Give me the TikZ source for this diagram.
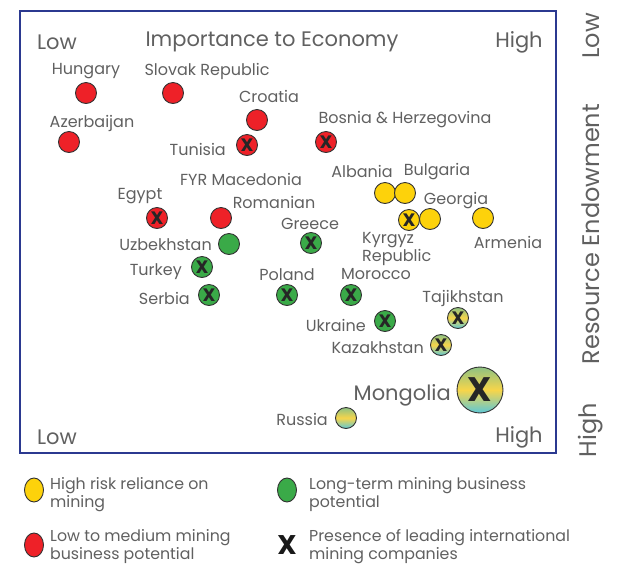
\documentclass[tikz,border=0pt]{standalone}
\usepackage{fontspec}
\setmainfont{Poppins}
\usetikzlibrary{shapes.geometric}
\definecolor{txt}{HTML}{606060}
\definecolor{frameblue}{HTML}{2B3990}
\definecolor{dred}{HTML}{EE2128}
\definecolor{dyel}{HTML}{FDD20B}
\definecolor{dgrn}{HTML}{3AAA48}
\definecolor{gtop}{HTML}{8DC283}
\definecolor{gmid}{HTML}{F7D54A}
\definecolor{gbot}{HTML}{5CC8D8}
\definecolor{outl}{HTML}{333333}
\tikzset{
  dot/.style={circle, draw=outl, line width=0.9pt, minimum size=21pt, inner sep=0pt, font=\fontsize{18}{18}\selectfont\bfseries, text=black!85},
  reddot/.style={dot, fill=dred},
  yeldot/.style={dot, fill=dyel},
  grndot/.style={dot, fill=dgrn},
  gradot/.style={dot, top color=gtop, bottom color=gbot, middle color=gmid},
  lbl/.style={text=txt, font=\fontsize{16}{17}\selectfont, inner sep=0pt, yshift=-1.5pt},
  axl/.style={text=txt, font=\fontsize{21}{22}\selectfont, inner sep=0pt, yshift=-2pt},
  legdot/.style={ellipse, draw=outl, line width=0.9pt, minimum width=19pt, minimum height=24pt, inner sep=0pt},
  legtxt/.style={text=txt, font=\fontsize{15.8}{18}\selectfont, inner sep=0pt, align=left, anchor=west},
}
\begin{document}
\begin{tikzpicture}[x=1pt,y=-1pt]
\useasboundingbox (0,0) rectangle (633,566);
\node[draw=frameblue, line width=2pt, minimum width=536pt, minimum height=442pt, inner sep=0pt] (frame) at (287.5,231.5) {};
% axis labels
\node[axl] (tl) at (57,40) {Low};
\node[axl] (tt) at (272,40) {Importance to Economy};
\node[axl] (tr) at (519,40) {High};
\node[axl] (bl) at (57,435) {Low};
\node[axl] (br) at (519,435) {High};
\node[axl, rotate=90, yshift=2pt, font=\fontsize{24}{24}\selectfont] (rl) at (593,34) {Low};
\node[axl, rotate=90, yshift=2pt, font=\fontsize{24}{24}\selectfont] (rm) at (593,232) {Resource Endowment};
\node[axl, rotate=90, yshift=2pt, font=\fontsize{24}{24}\selectfont] (rh) at (593,428) {High};
% red
\node[reddot] (hun) at (86,93) {};
\node[lbl] (hunl) at (86,70) {Hungary};
\node[reddot] (svk) at (173,93) {};
\node[lbl] (svkl) at (207,70) {Slovak Republic};
\node[reddot] (cro) at (257,120) {};
\node[lbl] (crol) at (269,95) {Croatia};
\node[reddot] (aze) at (69,142) {};
\node[lbl] (azel) at (92,122) {Azerbaijan};
\node[reddot] (tun) at (247,145) {X};
\node[lbl, anchor=east] (tunl) at (226,148) {Tunisia};
\node[reddot] (bih) at (326,142) {X};
\node[lbl] (bihl) at (405,118) {Bosnia \& Herzegovina};
\node[reddot] (egy) at (157,218) {X};
\node[lbl] (egyl) at (140,195) {Egypt};
\node[reddot] (rom) at (221,218) {};
\node[lbl] (roml) at (274,201) {Romanian};
\node[lbl] (mkdl) at (241,178) {FYR Macedonia};
% yellow
\node[yeldot] (alb) at (385,193) {};
\node[yeldot] (bgr) at (405,193) {};
\node[lbl] (albl) at (362,170) {Albania};
\node[lbl] (bgrl) at (437,170) {Bulgaria};
\node[yeldot] (geo) at (430,219) {};
\node[lbl] (geol) at (456,199) {Georgia};
\node[yeldot] (kgz) at (409,220) {X};
\node[lbl, align=left, anchor=north west, font=\fontsize{16}{14.5}\selectfont] (kgzl) at (362,231) {Kyrgyz\\Republic};
\node[yeldot] (arm) at (483,218) {};
\node[lbl] (arml) at (508,241) {Armenia};
% green
\node[grndot] (uzb) at (229,244) {};
\node[lbl, anchor=east] (uzbl) at (212,243) {Uzbekhstan};
\node[grndot] (grc) at (311,243) {X};
\node[lbl] (grcl) at (310,222) {Greece};
\node[grndot] (tur) at (202,267) {X};
\node[lbl, anchor=east] (turl) at (182,270) {Turkey};
\node[grndot] (srb) at (209,295) {X};
\node[lbl, anchor=east] (srbl) at (190,297) {Serbia};
\node[grndot] (pol) at (287,295) {X};
\node[lbl] (poll) at (287,273) {Poland};
\node[grndot] (mar) at (351,295) {X};
\node[lbl] (marl) at (376,273) {Morocco};
\node[grndot] (ukr) at (385,321) {X};
\node[lbl, anchor=east] (ukrl) at (366,324) {Ukraine};
% gradient
\node[gradot] (tjk) at (458,318) {X};
\node[lbl] (tjkl) at (463,297) {Tajikhstan};
\node[gradot] (kaz) at (441,345) {X};
\node[lbl, anchor=east] (kazl) at (424,346) {Kazakhstan};
\node[gradot, minimum size=46pt, font=\fontsize{34}{34}\selectfont\bfseries] (mng) at (480,390) {X};
\node[axl, anchor=east] (mngl) at (451,393) {Mongolia};
\node[gradot] (rus) at (346,418) {};
\node[lbl, anchor=east] (rusl) at (328,418) {Russia};
% legend
\node[legdot, fill=dyel] (lg1) at (34,490) {};
\node[legtxt] (lg1t) at (50,495) {High risk reliance on\\mining};
\node[legdot, fill=dgrn] (lg2) at (287,490) {};
\node[legtxt] (lg2t) at (309,495) {Long-term mining business\\potential};
\node[legdot, fill=dred] (lg3) at (34,545) {};
\node[legtxt] (lg3t) at (50,547) {Low to medium mining\\business potential};
\node[inner sep=0pt, font=\fontsize{27}{27}\selectfont\bfseries, text=black!90] (lg4) at (287,545) {X};
\node[legtxt] (lg4t) at (309,547) {Presence of leading international\\mining companies};
\end{tikzpicture}
\end{document}
